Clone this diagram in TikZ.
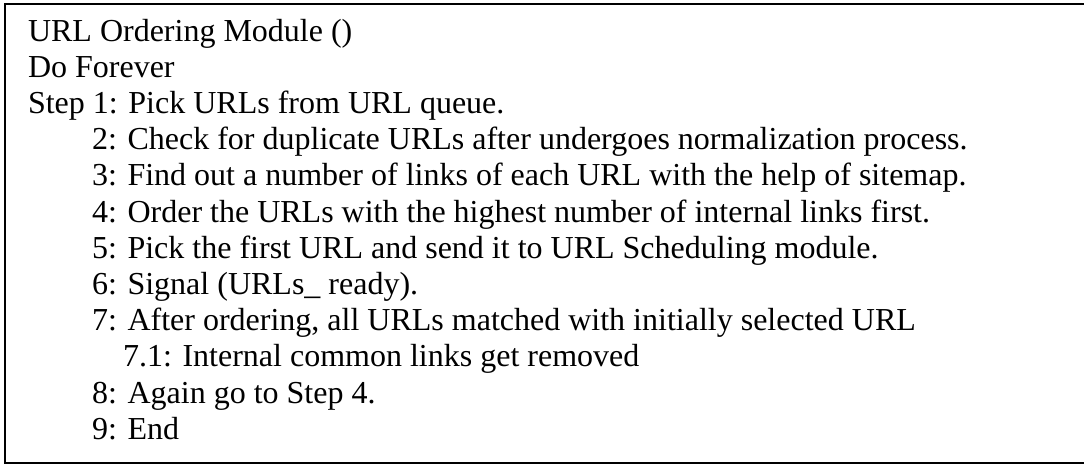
\documentclass[tikz,border=0pt]{standalone}
\usepackage{fontspec}
\setmainfont{Liberation Serif}
\newcommand{\linefont}{\fontsize{32}{36}\selectfont}
\tikzset{
  ln/.style={anchor=base west, inner sep=0pt, outer sep=0pt, font=\linefont},
  frame/.style={draw=black, line width=2pt}
}
\begin{document}
\begin{tikzpicture}[x=1pt,y=-1pt]
\useasboundingbox (0,0) rectangle (1084,466);
\clip (0,0) rectangle (1084,466);
\fill[white] (0,0) rectangle (1084,466);
\draw[frame] (5,4) rectangle (1095,463);
\node[ln] (l0) at (28,41) {URL Ordering Module ()};
\node[ln] (l1) at (28,77.2) {Do Forever};
\node[ln] (l2) at (28,113.4) {Step 1: Pick URLs from URL queue.};
\node[ln] (l3) at (92,149.6) {2: Check for duplicate URLs after undergoes normalization process.};
\node[ln] (l4) at (92,185.8) {3: Find out a number of links of each URL with the help of sitemap.};
\node[ln] (l5) at (92,222) {4: Order the URLs with the highest number of internal links first.};
\node[ln] (l6) at (92,258.2) {5: Pick the first URL and send it to URL Scheduling module.};
\node[ln] (l7) at (92,294.4) {6: Signal (URLs\_ ready).};
\node[ln] (l8) at (92,330.6) {7: After ordering, all URLs matched with initially selected URL};
\node[ln] (l9) at (123,366.8) {7.1: Internal common links get removed};
\node[ln] (l10) at (92,403) {8: Again go to Step 4.};
\node[ln] (l11) at (92,439.2) {9: End};
\end{tikzpicture}
\end{document}
